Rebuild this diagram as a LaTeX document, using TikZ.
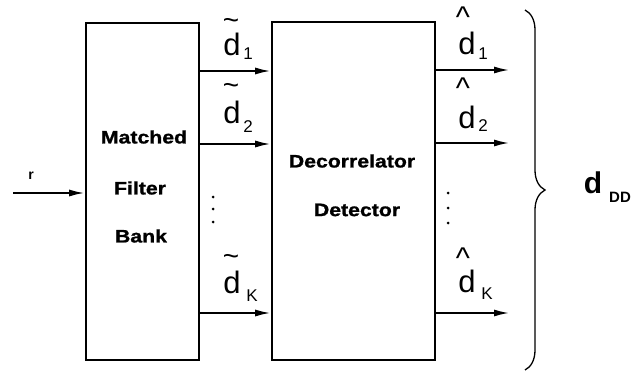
\documentclass[tikz,border=0pt]{standalone}
\usepackage{fontspec}
\setmainfont{Liberation Sans}
\newfontfamily\boxfont[FakeStretch=1.18, FakeBold=1.2]{Liberation Sans}
\usetikzlibrary{arrows.meta,decorations.pathreplacing}
\tikzset{
  blk/.style={draw, line width=1.6pt, inner sep=0pt},
  btext/.style={font=\boxfont\fontsize{18}{20}\selectfont\bfseries, inner sep=0pt},
  arr/.style={line width=2.2pt, -{Latex[length=16pt,width=7pt]}},
  dl/.style={font=\fontsize{31}{33}\selectfont, inner sep=0pt},
  sub/.style={font=\fontsize{17}{19}\selectfont, inner sep=0pt},
  acc/.style={font=\fontsize{28}{30}\selectfont, inner sep=0pt},
  hatn/.style={font=\fontsize{30}{32}\selectfont, inner sep=0pt},
  dotn/.style={circle, fill, inner sep=0pt, minimum size=3pt},
}
\begin{document}
\begin{tikzpicture}[x=1pt,y=-1pt]
\useasboundingbox (0,0) rectangle (637,377);
% blocks
\node[blk, minimum width=113pt, minimum height=337pt] (mfb) at (142.5,191.5) {};
\node[blk, minimum width=163pt, minimum height=338pt] (dec) at (353.5,191) {};
\node[btext] (t1) at (144,137) {Matched};
\node[btext] (t2) at (140,188) {Filter};
\node[btext] (t3) at (141,236) {Bank};
\node[btext] (t4) at (352,161) {Decorrelator};
\node[btext] (t5) at (357,210) {Detector};
% input
\coordinate (in) at (13,193);
\node[font=\fontsize{14}{15}\selectfont\bfseries, inner sep=0pt] (r) at (31,176) {r};
\draw[arr] (in) -- (mfb.west |- in);
% intermediate connections
\coordinate (y1) at (0,71);
\coordinate (y2) at (0,144);
\coordinate (yk) at (0,313);
\draw[arr] (mfb.east |- y1) -- (dec.west |- y1);
\draw[arr] (mfb.east |- y2) -- (dec.west |- y2);
\draw[arr] (mfb.east |- yk) -- (dec.west |- yk);
% outputs
\coordinate (o1) at (510,70);
\coordinate (o2) at (510,143);
\coordinate (ok) at (510,313);
\draw[arr] (dec.east |- o1) -- (o1);
\draw[arr] (dec.east |- o2) -- (o2);
\draw[arr] (dec.east |- ok) -- (ok);
% tilde labels
\node[dl] (td1) at (232,44) {d};
\node[acc] (tt1) at (231,24) {\textasciitilde};
\node[sub] (ts1) at (248,54) {1};
\node[dl] (td2) at (232,112) {d};
\node[acc] (tt2) at (231,89) {\textasciitilde};
\node[sub] (ts2) at (248,127) {2};
\node[dl] (tdk) at (232,282) {d};
\node[acc] (ttk) at (231,260) {\textasciitilde};
\node[sub] (tsk) at (252,296) {K};
% hat labels
\node[dl] (hd1) at (467,43) {d};
\node[hatn] (hh1) at (463,17) {\textasciicircum};
\node[sub] (hs1) at (483,54) {1};
\node[dl] (hd2) at (467,117) {d};
\node[hatn] (hh2) at (463,88) {\textasciicircum};
\node[sub] (hs2) at (483,126) {2};
\node[dl] (hdk) at (467,281) {d};
\node[hatn] (hhk) at (463,258) {\textasciicircum};
\node[sub] (hsk) at (487,294) {K};
% dots
\node[dotn] (l1) at (213,197) {};
\node[dotn] (l2) at (213,209) {};
\node[dotn] (l3) at (213,222) {};
\node[dotn] (r1) at (448,193) {};
\node[dotn] (r2) at (448,208) {};
\node[dotn] (r3) at (448,223) {};
% brace
\coordinate (bt) at (525,10);
\coordinate (bb) at (525,370);
\draw[line width=1.3pt, decorate, decoration={brace, amplitude=20pt}] (bt) -- (bb);
\node[font=\fontsize{30}{32}\selectfont\bfseries, inner sep=0pt] (dd) at (593,183) {d};
\node[font=\fontsize{15}{17}\selectfont\bfseries, inner sep=0pt] (dds) at (620,197) {DD};
\end{tikzpicture}
\end{document}
